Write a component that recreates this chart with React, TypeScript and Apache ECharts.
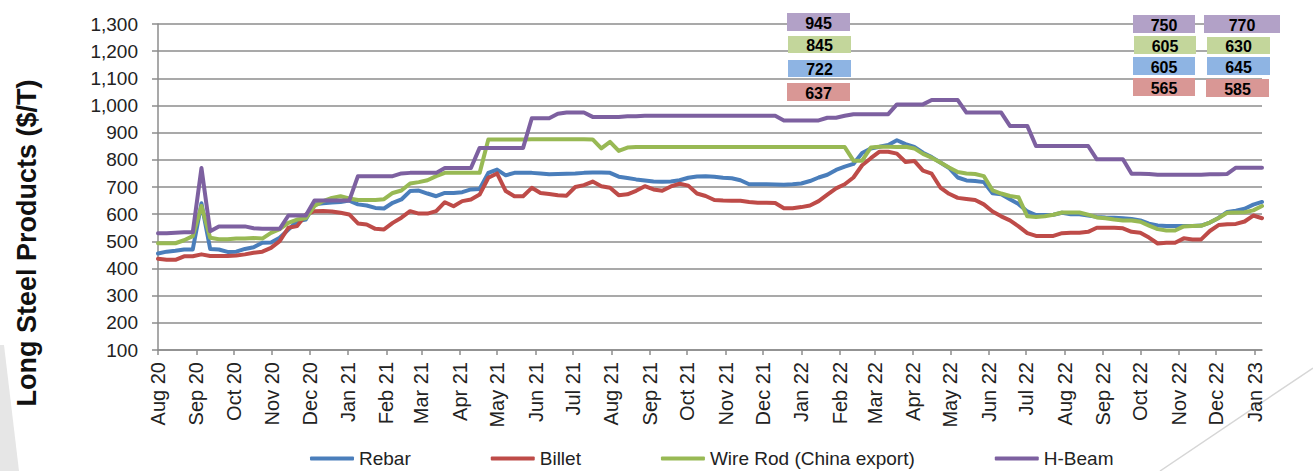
import React, { useEffect, useRef } from "react";
import * as echarts from "echarts";

// ---------- data ----------
const START_YEAR = 2020;
const START_MONTH = 7; // August (0-based)
const WEEK_COUNT = 128;

const seriesNames = ["Rebar", "Billet", "Wire Rod (China export)", "H-Beam"];
const seriesColors = ["#4a7ebb", "#be4b48", "#98b954", "#7d60a0"];

const rebar = [
  455, 462, 465, 470, 470, 640, 472, 470, 461, 462, 472, 478, 495, 496, 513, 543, 574, 580, 636, 640, 643, 645,
  650, 636, 632, 623, 621, 642, 654, 685, 687, 676, 666, 678, 678, 681, 691, 693, 752, 764, 743, 752, 752,
  752, 750, 747, 748, 749, 750, 752, 753, 753, 752, 738, 733, 728, 724, 720, 719, 720, 725, 734, 739, 740, 738,
  734, 732, 725, 710, 710, 710, 709, 708, 710, 713, 722, 735, 745, 763, 775, 785, 825, 842, 848, 855,
  872, 858, 848, 826, 810, 790, 770, 735, 724, 722, 718, 677, 673, 655, 637, 610, 597, 597, 598, 605, 600, 600,
  595, 590, 588, 587, 585, 582, 577, 565, 558, 556, 556, 556, 556, 558, 569, 586, 608, 613, 620, 635, 645,
];

const billet = [
  436, 432, 432, 445, 445, 452, 446, 446, 446, 448, 452, 458, 462, 476, 501, 550, 556, 598, 611, 612, 610, 605,
  599, 566, 562, 546, 544, 568, 587, 611, 602, 602, 611, 644, 629, 648, 654, 672, 734, 750, 685, 666, 666,
  697, 678, 674, 670, 668, 700, 707, 720, 703, 697, 670, 673, 686, 703, 691, 686, 702, 712, 705, 676, 667, 652,
  650, 649, 649, 645, 642, 642, 641, 622, 622, 626, 632, 648, 672, 695, 710, 735, 780, 806, 830, 830,
  823, 792, 796, 760, 749, 698, 675, 660, 656, 652, 636, 610, 592, 577, 555, 530, 520, 520, 520, 530, 532, 532,
  535, 550, 550, 550, 548, 535, 532, 514, 492, 495, 495, 511, 507, 507, 538, 560, 563, 564, 573, 595, 585,
];

const wireRod = [
  493, 493, 493, 504, 519, 630, 513, 508, 508, 510, 510, 512, 510, 531, 545, 568, 580, 585, 630, 648, 660, 666,
  658, 652, 652, 652, 655, 678, 687, 713, 718, 725, 740, 752, 752, 752, 752, 752, 875, 875, 875, 875, 875,
  876, 876, 876, 876, 876, 876, 876, 875, 842, 866, 833, 845,
  847, 847, 847, 847, 847, 847, 847, 847, 847, 847, 847, 847, 847, 847, 847, 847, 847, 847, 847, 847, 847, 847,
  847, 847, 847, 797, 797, 845, 848, 848,
  847, 848, 842, 822, 808, 790, 772, 755, 750, 748, 740, 688, 676, 667, 662, 592, 590, 592, 598, 606, 606, 606,
  598, 588, 585, 580, 577, 577, 572, 558, 545, 540, 540, 555, 556, 557, 569, 586, 605, 606, 607, 614, 630,
];

const hBeam = [
  530, 530, 532, 533, 533, 770, 537, 555, 555, 555, 555, 548, 546, 546, 546, 595, 595, 595, 650, 650, 650, 650,
  650, 740, 740, 740, 740, 740, 750, 752, 752, 752, 752, 770, 770, 770, 770, 844, 844, 844, 844, 844, 844,
  953, 953, 953, 970, 974, 974, 974, 958, 958, 958, 958, 960, 960,
  962, 962, 962, 962, 962, 962, 962, 962, 962, 962, 962, 962, 962, 962, 962, 962,
  945, 945, 945, 945, 945, 955, 955, 962, 968, 968, 968, 968, 968,
  1004, 1004, 1004, 1004, 1020, 1020, 1020, 1020, 974, 974, 974, 974, 974, 925, 925, 925,
  851, 851, 851, 851, 851, 851, 851, 802, 802, 802, 802, 749, 749, 748, 745, 745, 745, 745, 745, 745,
  747, 747, 748, 771, 771, 771, 771,
];

const seriesValues = [rebar, billet, wireRod, hBeam];

const Y_MIN = 100;
const Y_MAX = 1300;
const Y_STEP = 100;

const monthNames = ["Jan", "Feb", "Mar", "Apr", "May", "Jun", "Jul", "Aug", "Sep", "Oct", "Nov", "Dec"];

// callout boxes (order: H-Beam, Wire Rod, Rebar, Billet)
const calloutJan22 = [945, 845, 722, 637];
const calloutDec22 = [750, 605, 605, 565];
const calloutJan23 = [770, 630, 645, 585];
const calloutColors = ["#b2a1c7", "#c3d69b", "#8eb4e3", "#d99795"];

// ---------- derived ----------
const DAY_MS = 86400000;
const startMs = Date.UTC(START_YEAR, START_MONTH, 1);
const totalDays = (WEEK_COUNT - 1) * 7;
const days: string[] = [];
for (let d = 0; d <= totalDays; d++) {
  days.push(new Date(startMs + d * DAY_MS).toISOString().slice(0, 10));
}
const weekDates: string[] = [];
for (let i = 0; i < WEEK_COUNT; i++) weekDates.push(days[i * 7]);

const isMonthStart = (_idx: number, value: string) => value.slice(8, 10) === "01";
const fmtMonth = (value: string) => {
  const y = value.slice(2, 4);
  const m = parseInt(value.slice(5, 7), 10);
  return `${monthNames[m - 1]} ${y}`;
};

const AXIS_FONT = "'Liberation Sans', Arial, sans-serif";
const GRID_COLOR = "#8c8c8c";

function calloutGraphics(values: number[], boxes: { x: number; y: number; w: number; h: number }[]) {
  const out: any[] = [];
  values.forEach((v, k) => {
    const b = boxes[k];
    out.push({
      type: "rect",
      z: 100,
      shape: { x: b.x, y: b.y, width: b.w, height: b.h },
      style: { fill: calloutColors[k] },
    });
    out.push({
      type: "text",
      z: 101,
      x: b.x + b.w / 2,
      y: b.y + b.h / 2 + 1,
      style: {
        text: String(v),
        fill: "#000",
        font: "bold 16px 'Liberation Sans', Arial, sans-serif",
        align: "center",
        verticalAlign: "middle",
        textAlign: "center",
        textVerticalAlign: "middle",
      },
    });
  });
  return out;
}

export default function App() {
  const ref = useRef<HTMLDivElement>(null);

  useEffect(() => {
    if (!ref.current) return;
    const chart = echarts.init(ref.current, undefined, { renderer: "svg" });

    const graphic: any[] = [
      {
        type: "polygon",
        z: 0,
        shape: { points: [[0, 345], [4, 345], [19, 471], [0, 471]] },
        style: { fill: "#e6e6e6" },
      },
      {
        type: "line",
        z: 0,
        shape: { x1: 1313, y1: 368, x2: 1160, y2: 471 },
        style: { stroke: "#d6d6d6", lineWidth: 1.5 },
      },
      {
        type: "text",
        x: 27,
        y: 243,
        rotation: Math.PI / 2,
        style: {
          text: "Long Steel Products ($/T)",
          fill: "#111",
          font: "bold 27px 'Liberation Sans', Arial, sans-serif",
          align: "center",
          verticalAlign: "middle",
          textAlign: "center",
          textVerticalAlign: "middle",
        },
      },
      ...calloutGraphics(calloutJan22, [
        { x: 787, y: 13, w: 63, h: 18 },
        { x: 788, y: 36, w: 63, h: 17 },
        { x: 788, y: 60, w: 63, h: 17 },
        { x: 787, y: 83, w: 63, h: 18 },
      ]),
      ...calloutGraphics(calloutDec22, [
        { x: 1133, y: 15, w: 62, h: 18 },
        { x: 1134, y: 36, w: 62, h: 18 },
        { x: 1133, y: 57, w: 62, h: 18 },
        { x: 1133, y: 78, w: 62, h: 18 },
      ]),
      ...calloutGraphics(calloutJan23, [
        { x: 1204, y: 15, w: 76, h: 18 },
        { x: 1207, y: 37, w: 63, h: 17 },
        { x: 1207, y: 57, w: 63, h: 18 },
        { x: 1206, y: 79, w: 63, h: 18 },
      ]),
    ];

    chart.setOption({
      animation: false,
      backgroundColor: "#ffffff",
      grid: { left: 158, right: 51, top: 24, bottom: 121, containLabel: false },
      legend: {
        data: seriesNames,
        left: 305,
        top: 444,
        itemGap: 80,
        itemWidth: 44,
        itemHeight: 4,
        icon: "roundRect",
        textStyle: { fontFamily: AXIS_FONT, fontSize: 19, color: "#222" },
      },
      xAxis: {
        type: "category",
        data: days,
        boundaryGap: false,
        axisLine: { show: true, lineStyle: { color: GRID_COLOR, width: 1.5 } },
        axisTick: { show: true, interval: isMonthStart, length: 5, lineStyle: { color: GRID_COLOR, width: 1.5 } },
        axisLabel: {
          interval: isMonthStart,
          rotate: 90,
          margin: 12,
          fontSize: 20,
          fontFamily: AXIS_FONT,
          color: "#222",
          formatter: (v: string) => fmtMonth(v),
        },
        splitLine: { show: false },
      },
      yAxis: {
        type: "value",
        min: Y_MIN,
        max: Y_MAX,
        interval: Y_STEP,
        axisLine: { show: true, lineStyle: { color: GRID_COLOR, width: 1.5 } },
        axisTick: { show: true, length: 6, lineStyle: { color: GRID_COLOR, width: 1.5 } },
        axisLabel: {
          margin: 20,
          fontSize: 19,
          fontFamily: AXIS_FONT,
          color: "#222",
          formatter: (v: number) => v.toLocaleString("en-US"),
        },
        splitLine: { show: true, lineStyle: { color: GRID_COLOR, width: 1.5 } },
      },
      series: seriesNames.map((name, k) => ({
        name,
        type: "line",
        data: weekDates.map((d, i) => [d, seriesValues[k][i]]),
        symbol: "none",
        color: seriesColors[k],
        lineStyle: { color: seriesColors[k], width: 4, join: "round", cap: "round" },
        itemStyle: { color: seriesColors[k] },
      })),
      graphic,
    });

    return () => chart.dispose();
  }, []);

  return (
    <div
      ref={ref}
      style={{ position: "absolute", left: 0, top: 0, width: 1313, height: 471, background: "#fff" }}
    />
  );
}
